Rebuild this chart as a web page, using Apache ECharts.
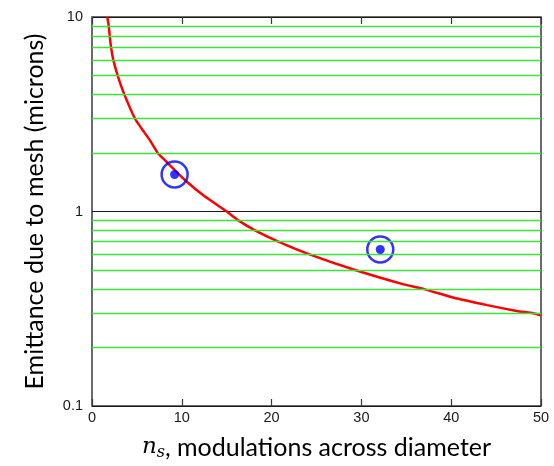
<!DOCTYPE html>
<html>
<head>
<meta charset="utf-8">
<script src="https://cdn.jsdelivr.net/npm/echarts@6/dist/echarts.min.js"></script>
<style>
  html, body { margin: 0; padding: 0; background: #fff; }
  #chart { width: 554px; height: 466px; }
</style>
</head>
<body>
<div id="chart"></div>
<script>
// Emittance contribution of the mesh versus number of modulations
const curveX = [1.70, 1.86, 1.97, 2.12, 2.38, 2.86, 3.6, 4.79, 5.5, 6.46, 7.31, 8.2, 9.0, 10.5, 12.5, 15.0, 16.3, 18.15, 20.75, 24.3, 29.3, 34.7, 36.9, 40.2, 44, 47.3, 49.1, 50];
const curveY = [10, 9, 8, 7, 6, 5, 4, 3, 2.68, 2.32, 2, 1.82, 1.67, 1.43, 1.2, 1.0, 0.9, 0.8, 0.7, 0.6, 0.5, 0.422, 0.4, 0.361, 0.33, 0.308, 0.3, 0.293];

// Measured points
const measX = [9.2, 32.1];
const measY = [1.55, 0.638];

// Axis ticks and horizontal reference lines
const xTicks = [0, 10, 20, 30, 40, 50];
const yTicks = [0.1, 1, 10];
const gridLevels = [0.2, 0.3, 0.4, 0.5, 0.6, 0.7, 0.8, 0.9, 2, 3, 4, 5, 6, 7, 8, 9];

const chart = echarts.init(document.getElementById('chart'), null, { renderer: 'canvas' });

const curve = curveX.map((x, i) => [x, curveY[i]]);
const meas = measX.map((x, i) => [x, measY[i]]);

chart.setOption({
  animation: false,
  grid: {
    left: 92, right: 13, top: 17, bottom: 58,
    show: true, borderColor: '#3a3a3a', borderWidth: 1.5, backgroundColor: '#fff'
  },
  xAxis: [{
    type: 'value', min: 0, max: 50, interval: 10,
    axisLine: { show: false },
    axisTick: { show: true, inside: true, length: 7, lineStyle: { color: '#3a3a3a', width: 1.2 } },
    axisLabel: { color: '#1a1a1a', fontFamily: 'Liberation Sans', fontSize: 14.5, margin: 4,
      formatter: v => xTicks.includes(v) ? String(v) : '' },
    splitLine: { show: false },
    name: '{n|n}{s|s}{t|, modulations across diameter}',
    nameLocation: 'middle', nameGap: 28,
    nameTextStyle: {
      rich: {
        n: { fontFamily: 'DejaVu Serif', fontStyle: 'italic', fontSize: 23, color: '#000' },
        s: { fontFamily: 'DejaVu Serif', fontStyle: 'italic', fontSize: 16, color: '#000', verticalAlign: 'bottom', padding: [11, 0, 0, 0] },
        t: { fontFamily: 'Lato', fontSize: 25, color: '#000' }
      }
    }
  }, {
    type: 'value', min: 0, max: 50, interval: 10, position: 'top',
    axisLine: { show: false },
    axisTick: { show: true, inside: true, length: 7, lineStyle: { color: '#3a3a3a', width: 1.2 } },
    axisLabel: { show: false },
    splitLine: { show: false }
  }],
  yAxis: {
    type: 'log', logBase: 10, min: 0.1, max: 10,
    axisLine: { show: false },
    axisTick: { show: false },
    axisLabel: { color: '#1a1a1a', fontFamily: 'Liberation Sans', fontSize: 14.5, margin: 9,
      formatter: v => { const t = yTicks.find(k => Math.abs(k - v) < 1e-9); return t === undefined ? '' : String(t); } },
    splitLine: { show: true, lineStyle: { color: '#1a1a1a', width: 1.2 } },
    name: 'Emittance due to mesh (microns)',
    nameLocation: 'middle', nameGap: 45,
    nameTextStyle: { fontFamily: 'Lato', fontSize: 25, color: '#000' }
  },
  series: [{
    type: 'line', data: [], silent: true,
    markLine: {
      silent: true, symbol: 'none', label: { show: false },
      lineStyle: { color: '#3ae63a', width: 1.3, type: 'solid' },
      data: gridLevels.map(v => ({ yAxis: v }))
    }
  }, {
    type: 'line', data: curve, showSymbol: false, smooth: 0.15,
    lineStyle: { color: '#ff0000', width: 2.5 }, z: 3
  }, {
    type: 'scatter', data: meas, symbol: 'circle', symbolSize: 26,
    itemStyle: { color: 'rgba(0,0,0,0)', borderColor: '#0000ff', borderWidth: 2.5 }, z: 4
  }, {
    type: 'scatter', data: meas, symbol: 'circle', symbolSize: 9,
    itemStyle: { color: '#0000ff' }, z: 5
  }]
});
</script>
</body>
</html>
